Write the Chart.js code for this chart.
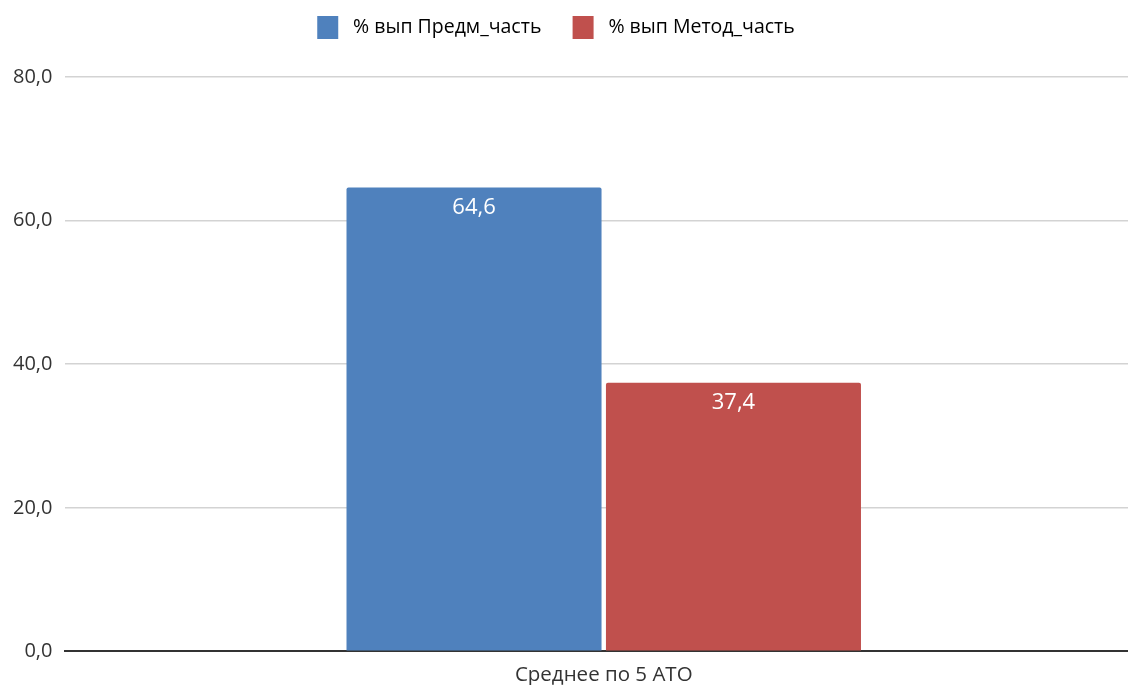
<!DOCTYPE html>
<html>
<head>
<meta charset="utf-8">
<script src="https://cdn.jsdelivr.net/npm/chart.js@4.4.1/dist/chart.umd.min.js"></script>
<style>
  html, body { margin: 0; padding: 0; background: #fff; overflow: hidden; }
  #wrap { width: 1144px; height: 685px; position: relative; }
</style>
</head>
<body>
<div id="wrap"><canvas id="chart"></canvas></div>
<script>
const categories = ['Среднее по 5 АТО'];
const seriesNames = ['% вып Предм_часть', '% вып Метод_часть'];
const predmValues = [64.6];
const metodValues = [37.4];
const yTicks = [0, 20, 40, 60, 80];

const FONT = "'Open Sans', 'DejaVu Sans', sans-serif";

function fmt(v) {
    return v.toFixed(1).replace('.', ',');
}

// legend spacing tweaks + white value labels inside the top of each bar
const barLabels = {
    id: 'barLabels',
    afterInit(chart) {
        const legend = chart.legend;
        const fit = legend.fit;
        legend.fit = function () {
            fit.call(this);
            this.height += 28;
        };
    },
    afterLayout(chart) {
        // legend sits a bit left of the plot centre in the original
        chart.legend.right -= 30;
    },
    afterDatasetsDraw(chart) {
        const ctx = chart.ctx;
        ctx.save();
        ctx.fillStyle = '#ffffff';
        ctx.font = '500 22px ' + FONT;
        ctx.textAlign = 'center';
        ctx.textBaseline = 'middle';
        chart.data.datasets.forEach((ds, i) => {
            chart.getDatasetMeta(i).data.forEach((bar, j) => {
                ctx.fillText(fmt(ds.data[j]), bar.x, bar.y + 20);
            });
        });
        ctx.restore();
    }
};

new Chart(document.getElementById('chart'), {
    type: 'bar',
    data: {
        labels: categories,
        datasets: [
            { label: seriesNames[0], data: predmValues, backgroundColor: '#4f81bd', borderRadius: 2, borderSkipped: 'bottom' },
            { label: seriesNames[1], data: metodValues, backgroundColor: '#c0504d', borderRadius: 2, borderSkipped: 'bottom' }
        ]
    },
    options: {
        responsive: true,
        maintainAspectRatio: false,
        animation: false,
        datasets: { bar: { categoryPercentage: 0.482, barPercentage: 0.983 } },
        layout: { padding: { top: 0, right: 2, bottom: -5, left: 0 } },
        plugins: {
            legend: {
                position: 'top',
                labels: {
                    boxWidth: 21,
                    boxHeight: 23,
                    padding: 16,
                    color: '#444',
                    font: { family: FONT, size: 19.5 },
                    generateLabels(chart) {
                        return chart.data.datasets.map((ds, i) => ({
                            text: ' ' + ds.label + (i === 0 ? '   ' : ''),
                            fillStyle: ds.backgroundColor,
                            strokeStyle: ds.backgroundColor,
                            lineWidth: 0,
                            datasetIndex: i
                        }));
                    }
                }
            },
            tooltip: { enabled: false }
        },
        scales: {
            x: {
                grid: { display: false },
                border: { display: true, color: '#333', width: 2 },
                ticks: { color: '#333', font: { family: FONT, size: 20.5 }, padding: 3 }
            },
            y: {
                min: 0,
                max: 80,
                afterBuildTicks(axis) { axis.ticks = yTicks.map(v => ({ value: v })); },
                border: { display: false },
                grid: {
                    drawTicks: false,
                    color: c => c.tick && c.tick.value === 0 ? '#333' : '#d3d3d3',
                    lineWidth: c => c.tick && c.tick.value === 0 ? 2 : 1.5
                },
                ticks: {
                    color: '#333',
                    padding: 13,
                    font: { family: FONT, size: 20 },
                    callback: v => fmt(v)
                }
            }
        }
    },
    plugins: [barLabels]
});
</script>
</body>
</html>
